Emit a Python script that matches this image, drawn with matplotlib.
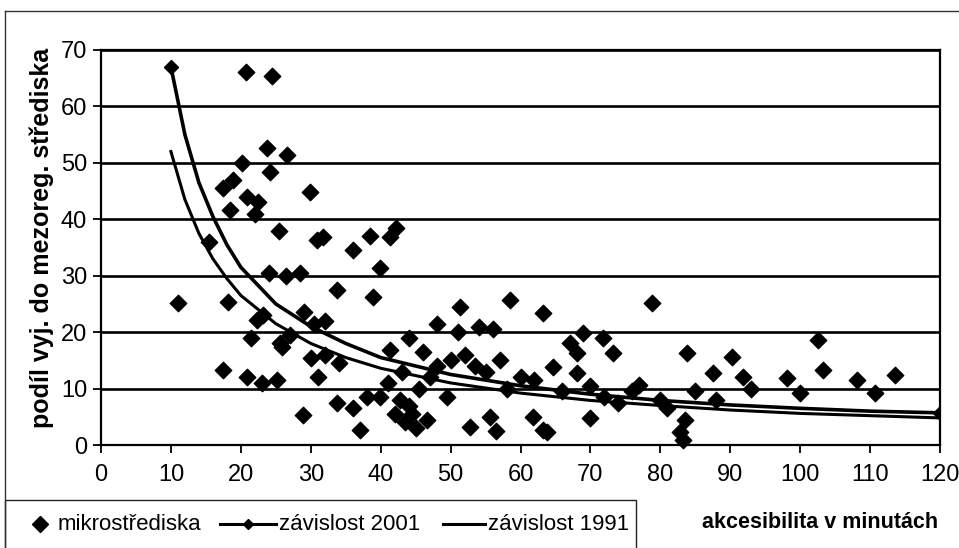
import matplotlib
matplotlib.use("Agg")
import matplotlib.pyplot as plt
from matplotlib.lines import Line2D
from matplotlib.patches import Rectangle

plt.rcParams['font.family'] = ['Liberation Sans', 'DejaVu Sans']

# microcentres: accessibility (min) vs share of commuters to the mesoregional centre (%)
mikro_x = [20.7, 24.5, 23.8, 26.6, 29.9, 18.9, 24.2, 20.9, 18.5, 22.5, 20.2, 17.5, 25.5, 22.0,
           15.5, 30.9, 31.8, 36.0, 39.9, 38.9, 33.8, 41.3, 42.2, 38.5,
           11.0, 18.2, 23.2, 22.3, 25.6, 25.9, 21.5, 27.0, 29.0, 30.5, 32.0, 28.5, 26.5, 24.0,
           17.5, 20.9, 25.2, 23.0, 30.0, 32.0, 34.0, 31.0, 33.8, 36.0, 28.9, 37.0, 38.0, 39.9,
           41.3, 42.8, 41.0, 42.0, 43.5, 44.5, 46.6, 45.0, 44.0, 45.5, 47.0, 48.0, 49.5, 50.0,
           46.0, 43.0, 44.0, 48.0, 51.0, 52.8, 52.0, 53.5, 55.0, 55.7, 56.5, 57.0, 56.0, 58.5,
           51.4, 54.0, 58.0, 60.0, 61.8, 63.2, 63.8, 62.0, 63.2, 64.7, 66.0, 67.1, 68.1, 69.0,
           71.8, 73.2, 68.1, 70.0, 70.0, 72.0, 74.0, 76.0, 77.0, 78.8, 80.0, 81.0, 82.8, 83.2,
           83.5, 83.8, 85.0, 87.6, 88.0, 90.3, 91.8, 93.0, 98.1, 100.0, 102.6, 103.3, 108.2,
           110.7, 113.6]
mikro_y = [66.1, 65.4, 52.6, 51.4, 44.8, 47.0, 48.4, 44.0, 41.6, 43.0, 50.0, 45.5, 38.0, 41.0,
           36.0, 36.3, 36.8, 34.6, 31.4, 26.2, 27.5, 36.9, 38.5, 37.0,
           25.2, 25.3, 23.0, 22.2, 18.1, 17.4, 19.0, 19.5, 23.5, 21.5, 22.0, 30.5, 30.0, 30.5,
           13.3, 12.0, 11.5, 11.0, 15.5, 16.0, 14.5, 12.0, 7.4, 6.5, 5.3, 2.7, 8.5, 8.5,
           16.8, 8.0, 11.0, 5.5, 4.0, 5.5, 4.4, 3.0, 7.0, 10.0, 12.0, 14.0, 8.5, 15.0,
           16.5, 13.0, 19.0, 21.5, 20.0, 3.2, 16.0, 14.0, 13.0, 5.0, 2.5, 15.0, 20.5, 25.7,
           24.5, 21.0, 10.0, 12.0, 5.0, 2.7, 2.3, 11.5, 23.4, 13.8, 9.5, 18.1, 16.3, 19.8,
           19.0, 16.3, 12.7, 4.8, 10.5, 8.5, 7.5, 9.5, 10.6, 25.2, 8.0, 6.5, 2.3, 0.8,
           4.5, 16.3, 9.5, 12.7, 8.0, 15.6, 12.0, 10.0, 11.9, 9.2, 18.6, 13.3, 11.5,
           9.2, 12.4]

# fitted dependence curves read at selected accessibility values
fit_x = [10, 12, 14, 16, 18, 20, 25, 30, 35, 40, 50, 60, 70, 80, 90, 100, 110, 120]
fit_2001 = [67.0, 55.0, 46.5, 40.5, 35.5, 31.5, 25.0, 21.0, 18.0, 15.5, 12.5, 10.5, 9.0,
            7.9, 7.1, 6.5, 6.0, 5.7]
fit_1991 = [52.0, 43.5, 37.5, 33.0, 29.5, 26.5, 21.5, 18.0, 15.5, 13.6, 11.0, 9.2, 7.9,
            7.0, 6.2, 5.6, 5.2, 4.8]

x_ticks = list(range(0, 121, 10))
y_ticks = list(range(0, 71, 10))

fig = plt.figure(figsize=(9.59, 5.48), dpi=100)
ax = fig.add_axes([101 / 959, 1 - 445 / 548, (940 - 101) / 959, (445 - 50) / 548])

for yv in y_ticks[1:]:
    ax.axhline(yv, color='black', lw=1.9, zorder=1)

ax.plot(fit_x, fit_1991, color='black', lw=2.2, zorder=3)
ax.plot(fit_x, fit_2001, color='black', lw=2.6, marker='D', markersize=7.5,
        markevery=[0, len(fit_x) - 1], zorder=3)
ax.scatter(mikro_x, mikro_y, marker='D', s=70, color='black', zorder=4, clip_on=False)

ax.set_xlim(0, 120)
ax.set_ylim(0, 70)
ax.set_xticks(x_ticks)
ax.set_yticks(y_ticks)
ax.tick_params(axis='both', direction='out', length=6, width=1.3, labelsize=17,
               colors='black')
ax.tick_params(axis='x', pad=8)
ax.tick_params(axis='y', pad=4)
for s in ax.spines.values():
    s.set_linewidth(1.6)
    s.set_color('black')

fig.text(42 / 959, 1 - 238 / 548, 'podíl vyj. do mezoreg. střediska', rotation=90,
         ha='center', va='center', fontsize=18, fontweight='bold')
fig.text(820 / 959, 1 - 523 / 548, 'akcesibilita v minutách', ha='center', va='center',
         fontsize=15.5, fontweight='bold')

# outer frame and legend box
fig.add_artist(Line2D([5 / 959, 1.0], [1 - 11 / 548, 1 - 11 / 548], color='#333333',
                      lw=1.0, transform=fig.transFigure))
fig.add_artist(Line2D([5 / 959, 5 / 959], [0, 1 - 11 / 548], color='#333333', lw=1.0,
                      transform=fig.transFigure))
fig.add_artist(Rectangle((5 / 959, -0.05), (636 - 5) / 959, 0.05 + 1 - 500 / 548,
                         fill=False, edgecolor='#222222', lw=1.0,
                         transform=fig.transFigure))

ly = 1 - 524 / 548
fig.add_artist(Line2D([40 / 959], [ly], marker='D', markersize=8, color='black', lw=0,
                      transform=fig.transFigure))
fig.text(58 / 959, ly, 'mikrostřediska', va='center', ha='left', fontsize=16)
fig.add_artist(Line2D([220 / 959, 276 / 959], [ly, ly], color='black', lw=2.2,
                      transform=fig.transFigure))
fig.add_artist(Line2D([248 / 959], [ly], marker='D', markersize=5.5, color='black', lw=0,
                      transform=fig.transFigure))
fig.text(279 / 959, ly, 'závislost 2001', va='center', ha='left', fontsize=16)
fig.add_artist(Line2D([443 / 959, 485 / 959], [ly, ly], color='black', lw=2.2,
                      transform=fig.transFigure))
fig.text(488 / 959, ly, 'závislost 1991', va='center', ha='left', fontsize=16)

fig.savefig('out.png', dpi=100)
